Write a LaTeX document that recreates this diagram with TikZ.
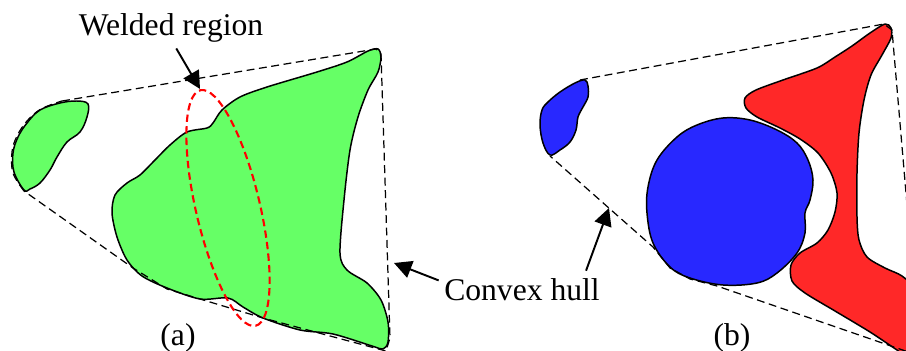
\documentclass[tikz,border=0pt]{standalone}
\usepackage{fontspec}
\newfontfamily\labfont{LiberationSerif-Regular.ttf}
\usetikzlibrary{arrows.meta}
\definecolor{grainG}{RGB}{102,255,102}
\definecolor{grainB}{RGB}{40,40,255}
\definecolor{grainR}{RGB}{255,40,40}
\begin{document}
\begin{tikzpicture}[x=0.02cm, y=-0.02cm, >={Triangle[length=10pt, width=10pt]},
    font=\labfont\fontsize{18}{21}\selectfont,
    grain/.style={draw=black, line width=0.85pt, line join=round},
    hull/.style={draw=black, line width=0.7pt, dash pattern=on 4.5pt off 2.6pt},
    weld/.style={draw=red, line width=1.2pt, dash pattern=on 4.2pt off 2.4pt},
    pointer/.style={->, line width=1.1pt},
    lab/.style={inner sep=0pt, anchor=base}]
  \useasboundingbox (0,0) rectangle (906,351);

% ---------------- (a): two green grains, the big one welded
  \fill[grainG, grain] plot[smooth cycle, tension=0.6] coordinates {
    (24,190) (14,172) (13,153) (18,137) (27,123) (40,110) (60,103) (77,101)
    (88,104) (87,117) (80,132) (67,142) (57,157) (50,170) (40,183) (30,189)};
  \fill[grainG, grain] plot[smooth cycle, tension=0.5] coordinates {
    (378,49) (381,57) (378,72) (368,90) (358,117) (350,150) (344,200)
    (340,253) (347,270) (367,283) (381,300) (388,322) (388,342) (383,349)
    (372,346) (333,334) (300,330) (263,318) (243,307) (228,298) (200,299)
    (167,288) (142,276) (127,260) (117,237) (112,213) (115,195) (127,183)
    (140,175) (155,160) (170,145) (187,132) (207,128) (213,123) (222,110)
    (240,97) (267,87) (317,72) (347,62) (368,51)};

% ---------------- convex hull of (a)
  \draw[hull] (62,101) -- (376,49) -- (381,54) -- (390,338) -- (386,351)
    -- (263,318) -- (200,299) -- (167,289) -- (133,268) -- (24,191);
  \draw[hull] plot[smooth, tension=0.6] coordinates {
    (24,191) (13,173) (12,152) (17,136) (27,121) (41,109) (62,101)};

% ---------------- welded region
  \coordinate (weldc) at (228,208);
  \draw[weld, rotate around={-76.8:(weldc)}] (weldc)
    ellipse [x radius=2.42cm, y radius=0.64cm];

% ---------------- (b): blue grains and the red grain
  \fill[grainB, grain] plot[smooth cycle, tension=0.6] coordinates {
    (550,155) (543,143) (540,125) (542,110) (548,102) (560,92) (575,83)
    (585,80) (588,86) (588,97) (583,107) (578,117) (576,130) (570,142)
    (560,150)};
  \fill[grainB, grain] plot[smooth cycle, tension=0.6] coordinates {
    (723,118) (750,120) (777,130) (797,143) (808,160) (813,180) (810,200)
    (805,213) (805,233) (797,253) (777,273) (757,283) (723,285) (690,278)
    (670,267) (653,243) (647,213) (648,187) (657,160) (677,137) (697,125)};
  \fill[grainR, grain] plot[smooth cycle, tension=0.5] coordinates {
    (885,24) (891,28) (891,38) (882,55) (871,75) (864,100) (859,133)
    (857,173) (857,217) (859,240) (867,257) (885,268) (902,276) (915,290)
    (922,320) (916,362) (897,350) (870,332) (835,311) (805,293) (792,281)
    (791,265) (800,253) (817,243) (828,230) (835,212) (837,193) (831,173)
    (818,153) (800,139) (780,128) (757,117) (746,108) (745,98) (756,90)
    (783,80) (817,68) (835,57) (852,46) (870,33)};

% ---------------- convex hull of (b)
  \draw[hull] (580,80) -- (884,24) -- (892,30) -- (920,356) -- (717,286)
    -- (690,279) -- (670,268) -- (653,247) -- (550,156);

% ---------------- labels and pointers
  \coordinate (weldtip) at (200,89);
  \coordinate (hulltipa) at (394,263);
  \coordinate (hulltipb) at (609,208);
  \node[lab] (weldlbl) at (171,36) {Welded region};
  \node[lab] (hulllbl) at (522,300) {Convex hull};
  \node[lab] (capa) at (178,345) {(a)};
  \node[lab] (capb) at (732,345) {(b)};
  \draw[pointer] ([xshift=3pt, yshift=-3pt]weldlbl.south) -- (weldtip);
  \draw[pointer] ([xshift=-3pt, yshift=5pt]hulllbl.west) -- (hulltipa);
  \draw[pointer] ([xshift=-8pt, yshift=4pt]hulllbl.north east) -- (hulltipb);
\end{tikzpicture}
\end{document}
